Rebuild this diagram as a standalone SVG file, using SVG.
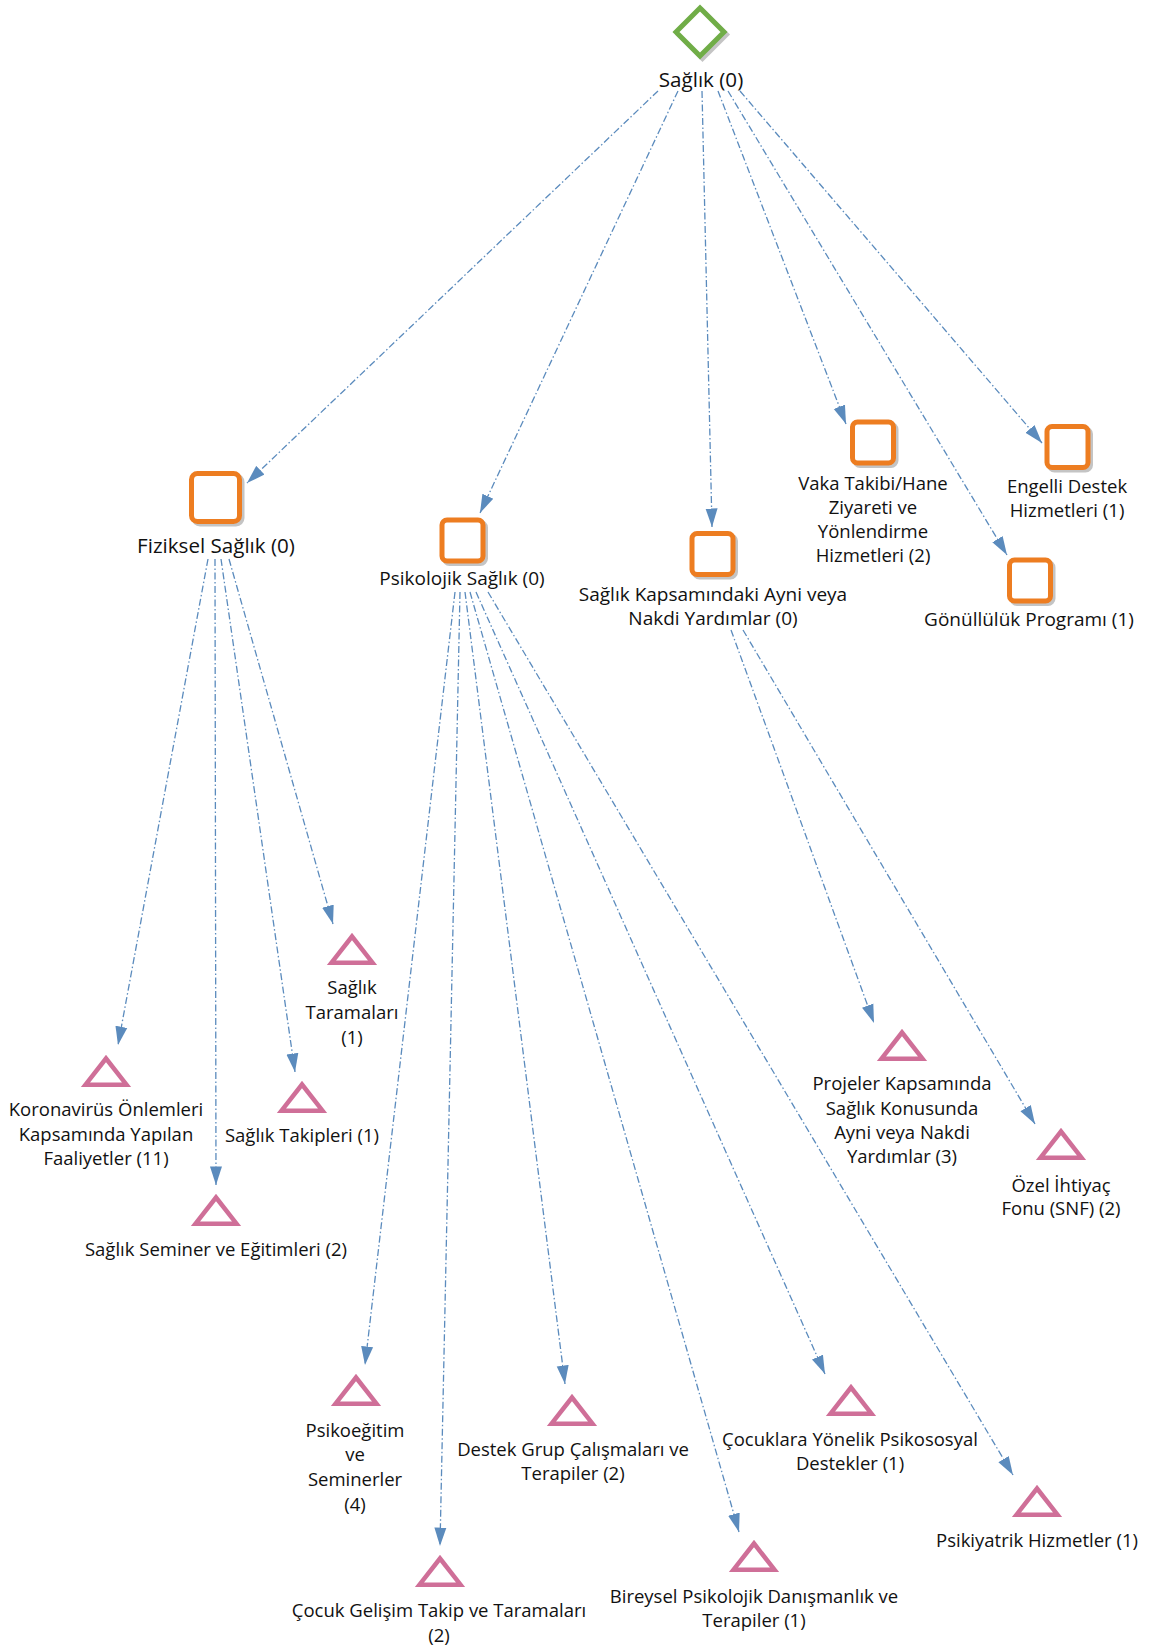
<svg xmlns="http://www.w3.org/2000/svg" xmlns:xlink="http://www.w3.org/1999/xlink" width="1154" height="1652" viewBox="0 0 1154 1652">
<style>
text{font-family:"Open Sans","Noto Sans","Liberation Sans",sans-serif;font-size:18.5px;fill:#111;text-anchor:middle}
text.big{font-size:20.6px}
text.mid{font-size:19px}
.c{fill:none;stroke:#5b8bbd;stroke-width:1.3;stroke-dasharray:7 2.5 1.5 2.5}
.sq{fill:#fff;stroke:#ed7d21;stroke-width:5}
.sh{fill:none;stroke:#c4c4c4;stroke-width:5}
.tri{fill:#fff;stroke:#cf6f98;stroke-width:4.5;stroke-linejoin:miter}
</style>
<defs>
<marker id="ah" markerUnits="userSpaceOnUse" markerWidth="19" markerHeight="13" viewBox="0 0 19 13" refX="18.5" refY="6.5" orient="auto">
<path d="M0,0.5 L18.5,6.5 L0,12.5 Z" fill="#5b8bbd"/>
</marker>
<path id="tri" class="tri" d="M0,4.5 L20.5,30.7 L-20.5,30.7 Z"/>
</defs>
<rect width="1154" height="1652" fill="#fff"/>
<g id="connectors">
<line class="c" x1="658" y1="91" x2="247" y2="483" marker-end="url(#ah)"/>
<line class="c" x1="678" y1="91" x2="480" y2="513" marker-end="url(#ah)"/>
<line class="c" x1="702" y1="91" x2="712" y2="527" marker-end="url(#ah)"/>
<line class="c" x1="718" y1="91" x2="846" y2="424" marker-end="url(#ah)"/>
<line class="c" x1="728" y1="91" x2="1007" y2="555" marker-end="url(#ah)"/>
<line class="c" x1="740" y1="91" x2="1042" y2="443" marker-end="url(#ah)"/>
<line class="c" x1="208" y1="559" x2="118" y2="1045" marker-end="url(#ah)"/>
<line class="c" x1="215" y1="559" x2="216" y2="1185" marker-end="url(#ah)"/>
<line class="c" x1="221" y1="559" x2="295" y2="1072" marker-end="url(#ah)"/>
<line class="c" x1="229" y1="559" x2="333" y2="924" marker-end="url(#ah)"/>
<line class="c" x1="455" y1="592" x2="365" y2="1365" marker-end="url(#ah)"/>
<line class="c" x1="460" y1="592" x2="440" y2="1546" marker-end="url(#ah)"/>
<line class="c" x1="465" y1="592" x2="565" y2="1384" marker-end="url(#ah)"/>
<line class="c" x1="470" y1="592" x2="739" y2="1532" marker-end="url(#ah)"/>
<line class="c" x1="476" y1="592" x2="825" y2="1374" marker-end="url(#ah)"/>
<line class="c" x1="488" y1="592" x2="1013" y2="1475" marker-end="url(#ah)"/>
<line class="c" x1="731" y1="630" x2="874" y2="1023" marker-end="url(#ah)"/>
<line class="c" x1="743" y1="630" x2="1035" y2="1124" marker-end="url(#ah)"/>
</g>
<g id="n-saglik">
<path d="M702.5,10.5 L726.5,34.5 L702.5,58.5 L678.5,34.5 Z" fill="none" stroke="#c4c4c4" stroke-width="5"/>
<path d="M700,8 L724,32 L700,56 L676,32 Z" fill="#fff" stroke="#70ad47" stroke-width="5"/>
<text class="big" x="701" y="87">Sağlık (0)</text>
</g>
<g id="n-fiziksel">
<rect class="sh" x="194" y="476" width="48" height="48" rx="6"/>
<rect class="sq" x="191.5" y="473.5" width="48" height="48" rx="6"/>
<text class="big" x="216" y="553">Fiziksel Sağlık (0)</text>
</g>
<g id="n-psikolojik">
<rect class="sh" x="444.5" y="522.5" width="41" height="41" rx="5"/>
<rect class="sq" x="442" y="520" width="41" height="41" rx="5"/>
<text class="mid" x="462" y="585">Psikolojik Sağlık (0)</text>
</g>
<g id="n-kapsam">
<rect class="sh" x="694.5" y="536" width="41" height="41" rx="5"/>
<rect class="sq" x="692" y="533.5" width="41" height="41" rx="5"/>
<text class="mid" x="713" y="601">Sağlık Kapsamındaki Ayni veya</text>
<text class="mid" x="713" y="625">Nakdi Yardımlar (0)</text>
</g>
<g id="n-vaka">
<rect class="sh" x="855" y="424.5" width="41" height="41" rx="5"/>
<rect class="sq" x="852.5" y="422" width="41" height="41" rx="5"/>
<text x="873" y="490">Vaka Takibi/Hane</text>
<text x="873" y="514">Ziyareti ve</text>
<text x="873" y="538">Yönlendirme</text>
<text x="873" y="562">Hizmetleri (2)</text>
</g>
<g id="n-engelli">
<rect class="sh" x="1049.5" y="429" width="41" height="41" rx="5"/>
<rect class="sq" x="1047" y="426.5" width="41" height="41" rx="5"/>
<text x="1067" y="493">Engelli Destek</text>
<text x="1067" y="517">Hizmetleri (1)</text>
</g>
<g id="n-gonullu">
<rect class="sh" x="1012" y="562.5" width="41" height="41" rx="5"/>
<rect class="sq" x="1009.5" y="560" width="41" height="41" rx="5"/>
<text class="mid" x="1029" y="626">Gönüllülük Programı (1)</text>
</g>
<g id="n-koronavirus">
<use xlink:href="#tri" x="106" y="1054"/>
<text x="106" y="1116">Koronavirüs Önlemleri</text>
<text x="106" y="1141">Kapsamında Yapılan</text>
<text x="106" y="1165">Faaliyetler (11)</text>
</g>
<g id="n-takipleri">
<use xlink:href="#tri" x="302" y="1080"/>
<text x="302" y="1142">Sağlık Takipleri (1)</text>
</g>
<g id="n-taramalari">
<use xlink:href="#tri" x="352" y="932"/>
<text x="352" y="994">Sağlık</text>
<text x="352" y="1019">Taramaları</text>
<text x="352" y="1044">(1)</text>
</g>
<g id="n-seminer">
<use xlink:href="#tri" x="216" y="1193"/>
<text x="216" y="1256">Sağlık Seminer ve Eğitimleri (2)</text>
</g>
<g id="n-projeler">
<use xlink:href="#tri" x="902" y="1028"/>
<text x="902" y="1090">Projeler Kapsamında</text>
<text x="902" y="1115">Sağlık Konusunda</text>
<text x="902" y="1139">Ayni veya Nakdi</text>
<text x="902" y="1163">Yardımlar (3)</text>
</g>
<g id="n-ozel">
<use xlink:href="#tri" x="1061" y="1127"/>
<text x="1061" y="1192">Özel İhtiyaç</text>
<text x="1061" y="1215">Fonu (SNF) (2)</text>
</g>
<g id="n-psikoegitim">
<use xlink:href="#tri" x="356" y="1373"/>
<text x="355" y="1437">Psikoeğitim</text>
<text x="355" y="1461">ve</text>
<text x="355" y="1486">Seminerler</text>
<text x="355" y="1511">(4)</text>
</g>
<g id="n-destek">
<use xlink:href="#tri" x="572" y="1393"/>
<text x="573" y="1456">Destek Grup Çalışmaları ve</text>
<text x="573" y="1480">Terapiler (2)</text>
</g>
<g id="n-cocuk">
<use xlink:href="#tri" x="440" y="1554"/>
<text x="439" y="1617">Çocuk Gelişim Takip ve Taramaları</text>
<text x="439" y="1642">(2)</text>
</g>
<g id="n-cocuklara">
<use xlink:href="#tri" x="851" y="1383"/>
<text x="850" y="1446">Çocuklara Yönelik Psikososyal</text>
<text x="850" y="1470">Destekler (1)</text>
</g>
<g id="n-psikiyatrik">
<use xlink:href="#tri" x="1037" y="1484"/>
<text x="1037" y="1547">Psikiyatrik Hizmetler (1)</text>
</g>
<g id="n-bireysel">
<use xlink:href="#tri" x="754" y="1539"/>
<text x="754" y="1603">Bireysel Psikolojik Danışmanlık ve</text>
<text x="754" y="1627">Terapiler (1)</text>
</g>
</svg>
